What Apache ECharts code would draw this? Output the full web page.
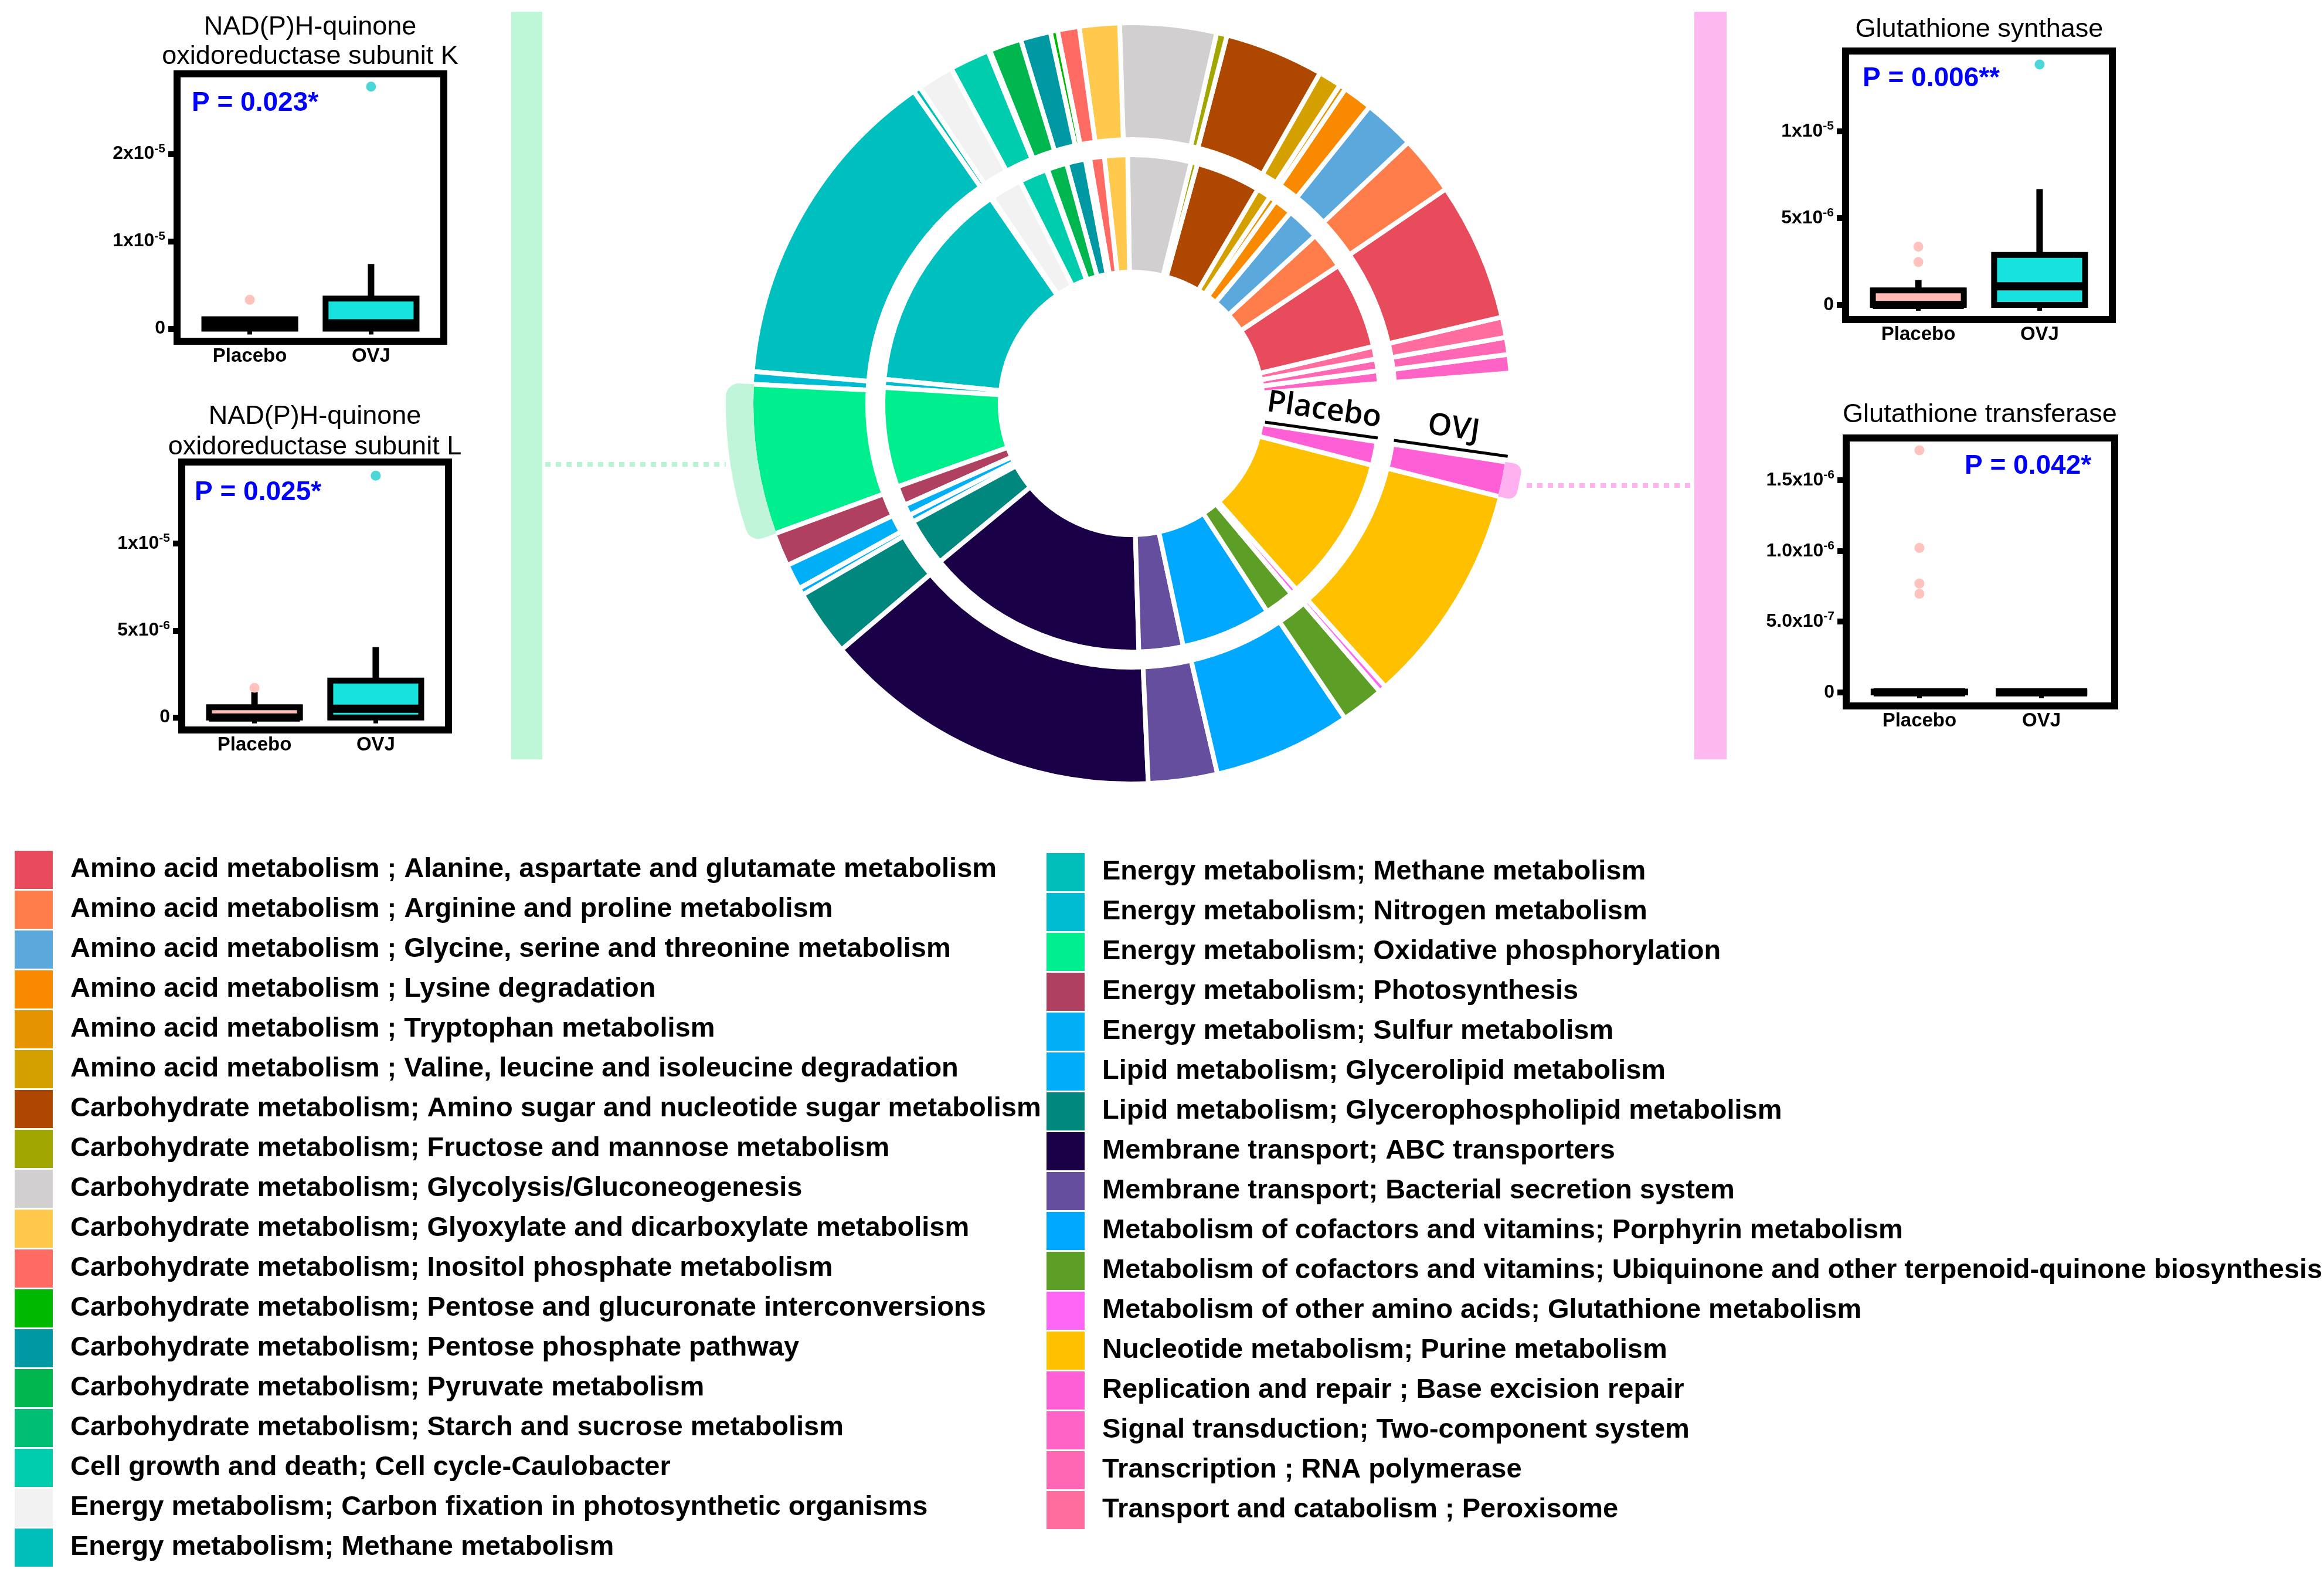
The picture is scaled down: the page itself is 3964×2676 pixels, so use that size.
<!DOCTYPE html>
<html><head><meta charset="utf-8">
<script src="https://cdn.jsdelivr.net/npm/echarts@6/dist/echarts.min.js"></script>
<style>html,body{margin:0;padding:0;background:#fff}#c{width:3964px;height:2676px}</style>
</head><body><div id="c"></div>
<script>
// ---------------- DATA ----------------
const categories = [
  'Amino acid metabolism ; Alanine, aspartate and glutamate metabolism',
  'Amino acid metabolism ; Arginine and proline metabolism',
  'Amino acid metabolism ; Glycine, serine and threonine metabolism',
  'Amino acid metabolism ; Lysine degradation',
  'Amino acid metabolism ; Tryptophan metabolism',
  'Amino acid metabolism ; Valine, leucine and isoleucine degradation',
  'Carbohydrate metabolism; Amino sugar and nucleotide sugar metabolism',
  'Carbohydrate metabolism; Fructose and mannose metabolism',
  'Carbohydrate metabolism; Glycolysis/Gluconeogenesis',
  'Carbohydrate metabolism; Glyoxylate and dicarboxylate metabolism',
  'Carbohydrate metabolism; Inositol phosphate metabolism',
  'Carbohydrate metabolism; Pentose and glucuronate interconversions',
  'Carbohydrate metabolism; Pentose phosphate pathway',
  'Carbohydrate metabolism; Pyruvate metabolism',
  'Carbohydrate metabolism; Starch and sucrose metabolism',
  'Cell growth and death; Cell cycle-Caulobacter',
  'Energy metabolism; Carbon fixation in photosynthetic organisms',
  'Energy metabolism; Methane metabolism',
  'Energy metabolism; Methane metabolism',
  'Energy metabolism; Nitrogen metabolism',
  'Energy metabolism; Oxidative phosphorylation',
  'Energy metabolism; Photosynthesis',
  'Energy metabolism; Sulfur metabolism',
  'Lipid metabolism; Glycerolipid metabolism',
  'Lipid metabolism; Glycerophospholipid metabolism',
  'Membrane transport; ABC transporters',
  'Membrane transport; Bacterial secretion system',
  'Metabolism of cofactors and vitamins; Porphyrin metabolism',
  'Metabolism of cofactors and vitamins; Ubiquinone and other terpenoid-quinone biosynthesis',
  'Metabolism of other amino acids; Glutathione metabolism',
  'Nucleotide metabolism; Purine metabolism',
  'Replication and repair ; Base excision repair',
  'Signal transduction; Two-component system',
  'Transcription ; RNA polymerase',
  'Transport and catabolism ; Peroxisome'
];
const categoryColors = [
  '#E84B5B','#FF7D4B','#5BA9DC','#F98A00','#E69300','#D4A000','#AE4700','#A2A600',
  '#D2CFD0','#FFC94E','#FF6B62','#00B800','#0098A3','#00B74F','#00BE74','#00CCAE',
  '#F2F2F2','#00BEBA','#00BFBF','#00BCD2','#00EF8E','#B0405F','#00AFF5','#00ADF8',
  '#00887E','#190047','#644E9D','#00A9FF','#5D9E27','#FF66F6','#FFC000','#FF5FD6',
  '#FF63C6','#FF66B3','#FF6C9D'
];
// arc share of each pathway (read as degrees of the ring)
const placeboShare = [
  20.3, 8.7, 7.8, 4.3, 1.6, 3.3, 15.1, 1.5, 14.7, 5.4, 3.4, 1.0, 4.4, 4.6, 0.3, 6.6,
  7.4, 0.4, 49.7, 1.9, 23.2, 4.5, 2.6, 1.7, 11.1, 51.9, 10.3, 21.0, 6.9, 1.5, 33.9, 5.5,
  2.95, 2.75, 2.95
];
const ovjShare = [
  21.1, 9.0, 7.9, 4.5, 1.0, 3.5, 15.1, 1.6, 14.7, 6.1, 3.3, 1.1, 4.6, 4.9, 0.3, 6.1,
  5.5, 1.1, 50.1, 1.9, 22.9, 5.1, 3.9, 1.1, 10.1, 52.0, 10.5, 21.0, 6.6, 1.1, 33.8, 5.3,
  2.8, 2.6, 3.1
];
const ringStartCategory = 'Signal transduction; Two-component system';
const highlightLeft = 'Energy metabolism; Oxidative phosphorylation';
const highlightRight = 'Replication and repair ; Base excision repair';

const groups = ['Placebo', 'OVJ'];
// boxplot statistics per group: [min, Q1, median, Q3, max]
const nqoKBox = [[0, 0, 0.05e-5, 0.107e-5, 0.107e-5], [0, 0, 0.06e-5, 0.345e-5, 0.74e-5]];
const nqoKOut = [[0.33e-5], [2.77e-5]];
const nqoKTicks = [0, 1e-5, 2e-5];
const nqoKTickLabels = [['0', ''], ['1x10', '-5'], ['2x10', '-5']];

const nqoLBox = [[0, 0, 0, 0.059e-5, 0.146e-5], [0, 0, 0.05e-5, 0.212e-5, 0.404e-5]];
const nqoLOut = [[0.17e-5], [1.39e-5]];
const nqoLTicks = [0, 0.5e-5, 1e-5];
const nqoLTickLabels = [['0', ''], ['5x10', '-6'], ['1x10', '-5']];

const gshBox = [[0, 0, 0, 0.084e-5, 0.143e-5], [0, 0, 0.107e-5, 0.288e-5, 0.667e-5]];
const gshOut = [[0.335e-5, 0.247e-5], [1.385e-5]];
const gshTicks = [0, 0.5e-5, 1e-5];
const gshTickLabels = [['0', ''], ['5x10', '-6'], ['1x10', '-5']];

const gstBox = [[0, 0, 0, 0.005e-6, 0.005e-6], [0, 0, 0, 0, 0]];
const gstOut = [[1.712e-6, 1.022e-6, 0.77e-6, 0.697e-6], []];
const gstTicks = [0, 0.5e-6, 1.0e-6, 1.5e-6];
const gstTickLabels = [['0', ''], ['5.0x10', '-7'], ['1.0x10', '-6'], ['1.5x10', '-6']];

// ---------------- LAYOUT ----------------
const FONT = '"Liberation Sans", Arial, Helvetica, sans-serif';
const CX = 1930, CY = 688;
const panels = [
  {title: ['NAD(P)H-quinone', 'oxidoreductase subunit K'], titleX: 529, titleY: [47, 97],
   p: 'P = 0.023*', pX: 327, pY: 176, box: nqoKBox, out: nqoKOut, ticks: nqoKTicks, labels: nqoKTickLabels,
   grid: {left: 302, top: 126, width: 455, height: 456}, ymin: -0.144e-5, ymax: 2.916e-5},
  {title: ['NAD(P)H-quinone', 'oxidoreductase subunit L'], titleX: 537, titleY: [711, 763],
   p: 'P = 0.025*', pX: 332, pY: 840, box: nqoLBox, out: nqoLOut, ticks: nqoLTicks, labels: nqoLTickLabels,
   grid: {left: 310, top: 788, width: 455, height: 457}, ymin: -0.072e-5, ymax: 1.468e-5},
  {title: ['Glutathione synthase'], titleX: 3376, titleY: [51],
   p: 'P = 0.006**', pX: 3177, pY: 134, box: gshBox, out: gshOut, ticks: gshTicks, labels: gshTickLabels,
   grid: {left: 3148, top: 87, width: 455, height: 458}, ymin: -0.0845e-5, ymax: 1.463e-5},
  {title: ['Glutathione transferase'], titleX: 3377, titleY: [708],
   p: 'P = 0.042*', pX: 3351, pY: 795, box: gstBox, out: gstOut, ticks: gstTicks, labels: gstTickLabels,
   grid: {left: 3149, top: 747, width: 458, height: 457}, ymin: -0.0967e-6, ymax: 1.7996e-6}
];
const boxFill = ['#FFB8B2', '#17E2DE'];
const outColor = ['#FFB3AC', '#1ECDCD'];

// ---------------- BUILD ----------------
const startIdx = categories.indexOf(ringStartCategory);
const ringOrder = categories.map((_, i) => (startIdx + i) % categories.length);

function ringData(share) {
  return ringOrder.map(i => ({name: categories[i], value: share[i], itemStyle: {color: categoryColors[i]}}));
}
function bumpData(share, target, color) {
  return ringOrder.map(i => ({value: share[i], itemStyle: {color: categories[i] === target ? color : 'rgba(0,0,0,0)'}}));
}
const pieCommon = {
  type: 'pie', center: [CX, CY], startAngle: 4.6, endAngle: 351.1, clockwise: false,
  label: {show: false}, labelLine: {show: false}, silent: true, emphasis: {disabled: true},
  avoidLabelOverlap: false
};

const series = [
  Object.assign({}, pieCommon, {name: 'Placebo', radius: [224, 424], z: 2,
    itemStyle: {borderColor: '#fff', borderWidth: 8}, data: ringData(placeboShare)}),
  Object.assign({}, pieCommon, {name: 'OVJ', radius: [450, 649], z: 2,
    itemStyle: {borderColor: '#fff', borderWidth: 8}, data: ringData(ovjShare)}),
  Object.assign({}, pieCommon, {name: 'bumpL', radius: [645, 692], z: 3, legendHoverLink: false,
    itemStyle: {borderWidth: 0, borderRadius: [0, 22]}, data: bumpData(ovjShare, highlightLeft, '#C0F5D9')}),
  Object.assign({}, pieCommon, {name: 'bumpR', radius: [645, 675], z: 3, legendHoverLink: false,
    itemStyle: {borderWidth: 0, borderRadius: [0, 16]}, data: bumpData(ovjShare, highlightRight, '#FFB1EF')})
];

function renderBox(fill) {
  return function (params, api) {
    const x = api.value(0);
    const c = api.coord([x, api.value(1)]);
    const cx = c[0], yMin = c[1];
    const yQ1 = api.coord([x, api.value(2)])[1];
    const yMed = api.coord([x, api.value(3)])[1];
    const yQ3 = api.coord([x, api.value(4)])[1];
    const yMax = api.coord([x, api.value(5)])[1];
    const half = api.size([0.75, 0])[0] / 2;
    const ch = [];
    if (yMax < yQ3 - 1) ch.push({type: 'line', shape: {x1: cx, y1: yQ3, x2: cx, y2: yMax}, style: {stroke: '#000', lineWidth: 11}});
    if (yMin > yQ1 + 1) ch.push({type: 'line', shape: {x1: cx, y1: yQ1, x2: cx, y2: yMin}, style: {stroke: '#000', lineWidth: 11}});
    ch.push({type: 'rect', shape: {x: cx - half, y: yQ3, width: 2 * half, height: yQ1 - yQ3},
      style: {fill: fill, stroke: '#000', lineWidth: 10}});
    ch.push({type: 'line', shape: {x1: cx - half, y1: yMed, x2: cx + half, y2: yMed}, style: {stroke: '#000', lineWidth: 14}});
    return {type: 'group', children: ch};
  };
}

const grids = [], xAxes = [], yAxes = [];
const graphic = [];
const TXT = {fontFamily: FONT, color: '#000', fontWeight: 'bold'};
panels.forEach((pn, k) => {
  grids.push(Object.assign({show: true, borderColor: '#000', borderWidth: 12, backgroundColor: '#fff'}, pn.grid));
  xAxes.push({gridIndex: k, type: 'value', min: 0.4, max: 2.6,
    axisLine: {show: false}, splitLine: {show: false},
    axisTick: {show: true, customValues: [1, 2], length: 10, lineStyle: {color: '#000', width: 8}},
    axisLabel: {customValues: [1, 2], formatter: v => groups[Math.round(v) - 1] || '',
      fontSize: 33, fontWeight: 'bold', fontFamily: FONT, color: '#000', margin: 9}});
  yAxes.push({gridIndex: k, type: 'value', min: pn.ymin, max: pn.ymax,
    axisLine: {show: false}, splitLine: {show: false},
    axisTick: {show: true, customValues: pn.ticks, length: 15, lineStyle: {color: '#000', width: 10}},
    axisLabel: {customValues: pn.ticks, margin: 20,
      formatter: function (v) {
        let idx = 0, best = Infinity;
        pn.ticks.forEach((t, j) => { const d = Math.abs(t - v); if (d < best) { best = d; idx = j; } });
        const lab = pn.labels[idx];
        return lab[1] ? '{m|' + lab[0] + '}{e|' + lab[1] + '}' : '{m|' + lab[0] + '}';
      },
      rich: {m: Object.assign({fontSize: 32, lineHeight: 38}, TXT),
             e: Object.assign({fontSize: 21, lineHeight: 22, verticalAlign: 'top'}, TXT)}}});
  groups.forEach((g, gi) => {
    const b = pn.box[gi];
    series.push({type: 'custom', xAxisIndex: k, yAxisIndex: k, silent: true, z: 2,
      renderItem: renderBox(boxFill[gi]), encode: {x: 0, y: [1, 2, 3, 4, 5]},
      data: [[gi + 1].concat(b)]});
  });
  const pts = [];
  groups.forEach((g, gi) => pn.out[gi].forEach(v => pts.push({value: [gi + 1, v], itemStyle: {color: outColor[gi]}})));
  series.push({type: 'scatter', xAxisIndex: k, yAxisIndex: k, silent: true, z: 3, symbolSize: 17, data: pts});
  // titles & p-values
  pn.title.forEach((t, j) => graphic.push({type: 'text', x: pn.titleX, y: pn.titleY[j], z: 10,
    style: {text: t, font: '45px ' + FONT, fill: '#000', textAlign: 'center', textVerticalAlign: 'middle'}}));
  graphic.push({type: 'text', x: pn.pX, y: pn.pY, z: 10,
    style: {text: pn.p, font: 'bold 46px ' + FONT, fill: '#0000FF', textAlign: 'left', textVerticalAlign: 'middle'}});
});

// side bars and dotted connectors
graphic.push({type: 'rect', shape: {x: 872, y: 20, width: 53, height: 1275}, style: {fill: '#BEF6D8'}, z: -5});
graphic.push({type: 'rect', shape: {x: 2890, y: 20, width: 55, height: 1275}, style: {fill: '#FDB9EF'}, z: -5});
graphic.push({type: 'line', shape: {x1: 930, y1: 792, x2: 1238, y2: 792}, style: {stroke: '#B9F3D3', lineWidth: 8, lineDash: [9, 9]}, z: -5});
graphic.push({type: 'line', shape: {x1: 2604, y1: 828, x2: 2886, y2: 828}, style: {stroke: '#FFB4EE', lineWidth: 8, lineDash: [9, 9]}, z: -5});

// ring labels (Placebo = inner ring, OVJ = outer ring)
const rayDeg = 8, rad = rayDeg * Math.PI / 180;
const dir = [Math.cos(rad), Math.sin(rad)], perp = [Math.sin(rad), -Math.cos(rad)];
[[groups[0], 230, 424], [groups[1], 452, 648]].forEach(([txt, r0, r1]) => {
  graphic.push({type: 'line', z: 10, shape: {x1: CX + r0 * dir[0], y1: CY + r0 * dir[1], x2: CX + r1 * dir[0], y2: CY + r1 * dir[1]},
    style: {stroke: '#000', lineWidth: 5}});
  const rm = (r0 + r1) / 2;
  graphic.push({type: 'text', z: 10, x: CX + rm * dir[0] + 34 * perp[0], y: CY + rm * dir[1] + 34 * perp[1], rotation: -rad,
    style: {text: txt, font: '600 52px "Open Sans", ' + FONT, fill: '#000', textAlign: 'center', textVerticalAlign: 'middle'}});
});

const legendCommon = {orient: 'vertical', padding: 0, itemWidth: 65, itemHeight: 65, itemGap: 3, icon: 'rect',
  height: 1300, selectedMode: false, itemStyle: {borderWidth: 0},
  textStyle: {fontSize: 47, fontWeight: 'bold', fontFamily: FONT, color: '#000', padding: [0, 0, 0, 25]}};

const option = {
  animation: false,
  backgroundColor: '#fff',
  grid: grids, xAxis: xAxes, yAxis: yAxes,
  legend: [
    Object.assign({left: 25, top: 1451, data: categories.slice(0, 18)}, legendCommon),
    Object.assign({left: 1785, top: 1455, data: categories.slice(18)}, legendCommon)
  ],
  series: series,
  graphic: graphic
};
const chart = echarts.init(document.getElementById('c'), null, {renderer: 'canvas'});
chart.setOption(option);
</script></body></html>
